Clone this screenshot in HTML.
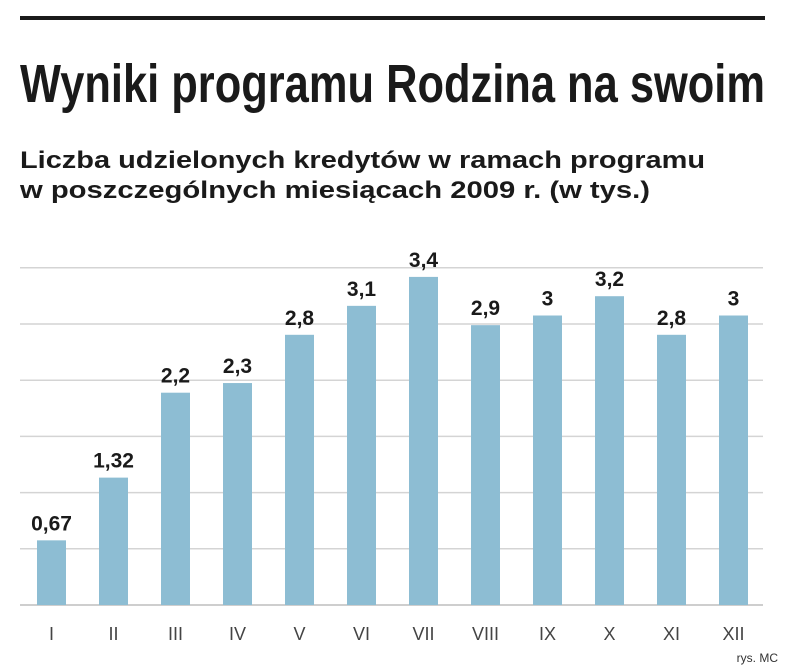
<!DOCTYPE html>
<html><head><meta charset="utf-8"><style>
html,body{margin:0;padding:0;background:#fff;width:805px;height:668px;overflow:hidden}
svg{display:block}
</style></head><body>
<svg id="chart" width="805" height="668" viewBox="0 0 805 668" font-family="'Liberation Sans', sans-serif">
<rect x="20" y="16" width="745" height="4" fill="#1a1a1a"/>
<text x="20" y="102" font-size="54" font-weight="bold" font-family="'Liberation Sans Narrow','Liberation Sans',sans-serif" textLength="745" lengthAdjust="spacingAndGlyphs" fill="#1a1a1a">Wyniki programu Rodzina na swoim</text>
<text x="20" y="168" font-size="24" font-weight="bold" textLength="685" lengthAdjust="spacingAndGlyphs" fill="#1a1a1a">Liczba udzielonych kredytów w ramach programu</text>
<text x="20" y="198" font-size="24" font-weight="bold" textLength="630" lengthAdjust="spacingAndGlyphs" fill="#1a1a1a">w poszczególnych miesiącach 2009 r. (w tys.)</text>
<g id="grid"></g><g id="bars"></g>
<text x="778" y="662" font-size="12" text-anchor="end" fill="#333">rys. MC</text>
</svg>
<script>
const categories = ["I","II","III","IV","V","VI","VII","VIII","IX","X","XI","XII"];
const values = [0.67,1.32,2.2,2.3,2.8,3.1,3.4,2.9,3,3.2,2.8,3];
const valueLabels = ["0,67","1,32","2,2","2,3","2,8","3,1","3,4","2,9","3","3,2","2,8","3"];
const gridTicks = [0,1,2,3,4,5,6];
const NS="http://www.w3.org/2000/svg";
const baseY=605, pxPerUnit=96.5, gridStep=56.2, x0=51.5, step=62, bw=29;
const y=v=>baseY-v*pxPerUnit;
const x=i=>x0+i*step;
function mk(t,a){const e=document.createElementNS(NS,t);for(const k in a)e.setAttribute(k,a[k]);return e;}
const g=document.getElementById('grid'), b=document.getElementById('bars');
gridTicks.forEach(t=>{
  const gy=baseY-t*gridStep;
  const l=mk('line',{x1:20,x2:763,y1:gy,y2:gy,stroke:t===0?'#bdbdbd':'#d4d4d4','stroke-width':1.5});
  
  
  g.appendChild(l);
});
categories.forEach((c,i)=>{
  const r=mk('rect',{x:x(i)-bw/2,y:y(values[i]),width:bw,height:baseY-y(values[i]),fill:'#8dbdd3'});
  
  
  b.appendChild(r);
  const vl=mk('text',{x:x(i),y:y(values[i])-10,'font-size':21,'font-weight':'bold','text-anchor':'middle',fill:'#1a1a1a'});
  vl.textContent=valueLabels[i];
  
  
  b.appendChild(vl);
  const cl=mk('text',{x:x(i),y:640,'font-size':18,'text-anchor':'middle',fill:'#444'});
  cl.textContent=c;
  
  
  b.appendChild(cl);
});
</script>
</body></html>
